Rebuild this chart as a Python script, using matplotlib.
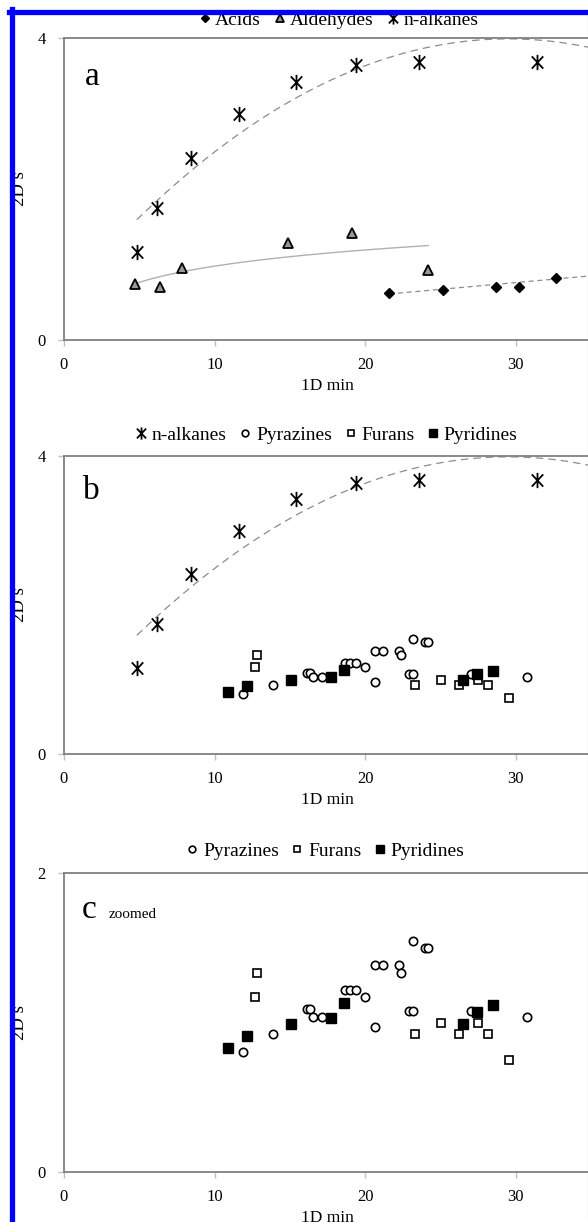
import numpy as np
import matplotlib
matplotlib.use("Agg")
import matplotlib.pyplot as plt
from matplotlib.lines import Line2D
from matplotlib.path import Path

plt.rcParams['font.family'] = ['Liberation Serif', 'DejaVu Serif']

# ---- data (1D min, 2D s) ----
alk_x = [4.84, 6.2, 8.43, 11.6, 15.4, 19.4, 23.6, 31.4]
alk_y = [1.16, 1.75, 2.41, 2.99, 3.42, 3.64, 3.68, 3.68]
# trend line of the n-alkanes
alk_trend_x = [4.84, 8.43, 11.6, 15.4, 19.4, 23.6, 29.0, 35.0]
alk_trend_y = [1.55, 2.27, 2.78, 3.20, 3.56, 3.83, 3.99, 3.88]

ald_x = [4.71, 6.4, 7.87, 14.9, 19.1, 24.2]
ald_y = [0.74, 0.70, 0.95, 1.28, 1.42, 0.93]

acid_x = [21.6, 25.2, 28.7, 30.2, 32.7]
acid_y = [0.62, 0.66, 0.70, 0.70, 0.82]
acid_trend_x = [21.6, 35.0]
acid_trend_y = [0.61, 0.85]

pyrazine_x = [11.89, 13.87, 16.11, 16.33, 16.53, 17.11, 18.69, 19.02, 19.38, 19.98,
              20.67, 20.67, 21.18, 22.22, 22.36, 23.16, 24.0, 24.15, 22.89, 23.16,
              27.05, 30.73]
pyrazine_y = [0.80, 0.92, 1.09, 1.09, 1.04, 1.04, 1.22, 1.22, 1.22, 1.17,
              0.97, 1.385, 1.385, 1.387, 1.33, 1.545, 1.50, 1.50, 1.08, 1.08,
              1.08, 1.04]

furan_x = [12.84, 12.67, 25.02, 23.33, 26.25, 27.48, 28.18, 29.55]
furan_y = [1.33, 1.17, 1.00, 0.92, 0.92, 1.00, 0.92, 0.75]

pyridine_x = [10.89, 12.18, 15.07, 17.73, 18.58, 26.5, 27.43, 28.48]
pyridine_y = [0.83, 0.91, 0.99, 1.03, 1.13, 0.99, 1.07, 1.12]

W, H = 588, 1222
fig = plt.figure(figsize=(W / 100, H / 100), dpi=100)


def fx(px):
    return px / W


def fy(py):
    return 1 - py / H


GRAY = '#808080'
# Excel-like star: X plus a vertical stroke
star_path = Path([(0, -1), (0, 1), (-0.75, -0.8), (0.75, 0.8), (-0.75, 0.8), (0.75, -0.8)],
                 [Path.MOVETO, Path.LINETO] * 3)
star = dict(marker=star_path, ms=11, mew=1.3, color='black', ls='none')
diam = dict(marker='D', ms=5.5, color='black', ls='none')
tri = dict(marker='^', ms=7, mfc='#999999', mec='black', mew=1.3, ls='none')
circ = dict(marker='o', ms=6, mfc='white', mec='black', mew=1.2, ls='none')
osq = dict(marker='s', ms=6, mfc='white', mec='black', mew=1.2, ls='none')
bsq = dict(marker='s', ms=7.5, color='black', ls='none')


def make_axes(top, bottom, ymax):
    ax = fig.add_axes([fx(64), fy(bottom), fx(591) - fx(64), (bottom - top) / H])
    ax.set_xlim(0, 35)
    ax.set_ylim(0, ymax)
    ax.set_xticks([0, 10, 20, 30])
    ax.set_yticks([0, ymax])
    for s in ax.spines.values():
        s.set_color(GRAY)
        s.set_linewidth(1.3)
    ax.tick_params(direction='out', length=4, width=1, color='#c0c0c0', labelsize=12)
    ax.tick_params(axis='x', pad=8)
    ax.tick_params(axis='y', pad=9)
    ax.set_xlabel('1D min', fontsize=12.5, labelpad=4)
    ax.set_ylabel('2D s', fontsize=13.5, labelpad=7)
    return ax


def alkane_trend(ax):
    c = np.polyfit(alk_trend_x, alk_trend_y, 2)
    xx = np.linspace(min(alk_trend_x), max(alk_trend_x), 200)
    ax.plot(xx, np.polyval(c, xx), color='#8c8c8c', lw=0.9, ls=(0, (6, 4)))


def legend(handles, labels, cx, cy):
    fig.legend(handles, labels, loc='center', bbox_to_anchor=(fx(cx), fy(cy)),
               ncol=len(labels), frameon=False, fontsize=14, handlelength=0.7,
               handletextpad=0.2, columnspacing=0.6, borderpad=0, markerscale=0.8)


# ---- panel a ----
ax = make_axes(38, 340, 4)
alkane_trend(ax)
c = np.polyfit(np.log(ald_x), ald_y, 1)
xx = np.linspace(min(ald_x), max(ald_x), 100)
ax.plot(xx, np.polyval(c, np.log(xx)), color='#b0b0b0', lw=1)
ax.plot(acid_trend_x, acid_trend_y, color='#8c8c8c', lw=0.9, ls=(0, (4, 3)))
ax.plot(acid_x, acid_y, **diam)
ax.plot(ald_x, ald_y, **tri)
ax.plot(alk_x, alk_y, **star)
fig.text(fx(85), fy(85), 'a', fontsize=24, va='baseline')
legend([Line2D([], [], **diam), Line2D([], [], **tri), Line2D([], [], **star)],
       ['Acids', 'Aldehydes', 'n-alkanes'], 338, 20)

# ---- panel b ----
ax = make_axes(456, 754, 4)
alkane_trend(ax)
ax.plot(alk_x, alk_y, **star)
ax.plot(pyrazine_x, pyrazine_y, **circ)
ax.plot(furan_x, furan_y, **osq)
ax.plot(pyridine_x, pyridine_y, **bsq)
fig.text(fx(83), fy(499), 'b', fontsize=24, va='baseline')
legend([Line2D([], [], **star), Line2D([], [], **circ), Line2D([], [], **osq),
        Line2D([], [], **bsq)],
       ['n-alkanes', 'Pyrazines', 'Furans', 'Pyridines'], 326, 435)

# ---- panel c ----
ax = make_axes(873, 1172, 2)
ax.plot(pyrazine_x, pyrazine_y, **circ)
ax.plot(furan_x, furan_y, **osq)
ax.plot(pyridine_x, pyridine_y, **bsq)
fig.text(fx(82), fy(918), 'c', fontsize=24, va='baseline')
fig.text(fx(109), fy(918), 'zoomed', fontsize=11, va='baseline')
legend([Line2D([], [], **circ), Line2D([], [], **osq), Line2D([], [], **bsq)],
       ['Pyrazines', 'Furans', 'Pyridines'], 325, 851)

# blue frame around the figure (cut at right and bottom)
fig.add_artist(Line2D([fx(11.5), fx(11.5)], [fy(9), 0], color='#0000ff', lw=3.8,
                      transform=fig.transFigure, zorder=10))
fig.add_artist(Line2D([fx(9), 1], [fy(11.5), fy(11.5)], color='#0000ff', lw=3.8,
                      transform=fig.transFigure, zorder=10))
fig.add_artist(Line2D([fx(587.5), fx(587.5)], [fy(14), 0], color='#9999ff', lw=0.8,
                      transform=fig.transFigure, zorder=10))

fig.savefig('out.png', dpi=100)
